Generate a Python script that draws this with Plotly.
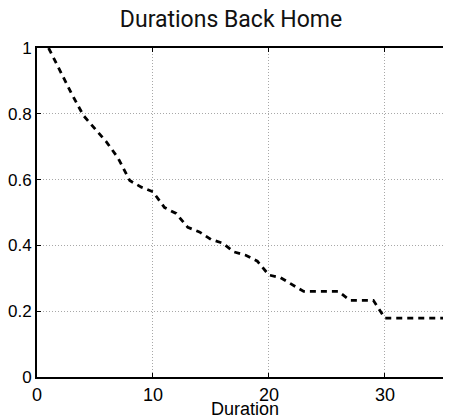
import plotly.graph_objects as go

duration = [1, 2, 3, 4, 5, 6, 7, 8, 9, 10, 11, 12, 13, 14, 15, 16, 17, 18, 19, 20,
            21, 22, 23, 24, 25, 26, 27, 28, 29, 30, 31, 32, 33, 34, 35, 36]
survival = [1.0, 0.93, 0.86, 0.795, 0.755, 0.714, 0.665, 0.597, 0.577, 0.563,
            0.515, 0.497, 0.455, 0.441, 0.418, 0.407, 0.38, 0.37, 0.352, 0.31,
            0.302, 0.28, 0.26, 0.26, 0.26, 0.26, 0.233, 0.233, 0.233, 0.179,
            0.179, 0.179, 0.179, 0.179, 0.179, 0.179]

x_ticks = [0, 10, 20, 30]
y_ticks = [0, 0.2, 0.4, 0.6, 0.8, 1]
y_tick_labels = ["0", "0.2", "0.4", "0.6", "0.8", "1"]

TICK_FONT = "Liberation Sans"
# page body has an 8px default margin; size the figure so it fills the window
OFF = 8
W, H = 451 - OFF, 416 - OFF
L, T, B = 37 - OFF, 48 - OFF, 39
PLOT_H = H - T - B

fig = go.Figure()
fig.add_trace(go.Scatter(
    x=duration, y=survival, mode="lines",
    line=dict(color="black", width=2.8, dash="6px,5px"),
    showlegend=False,
))

fig.update_layout(
    width=W, height=H,
    margin=dict(l=L, r=0, t=T, b=B, autoexpand=False),
    paper_bgcolor="white", plot_bgcolor="white",
    title=dict(text="Durations Back Home", x=(231 - OFF) / W, xanchor="center",
               y=1 - (18.5 - OFF) / H, yanchor="middle", yref="container",
               font=dict(family="Roboto", size=23, color="#111111")),
    font=dict(family=TICK_FONT, size=18, color="black"),
)

fig.add_annotation(text="Duration", x=(245 - 37) / (451 - 37), xref="paper",
                   y=-((409 - OFF) - (H - B)) / PLOT_H, yref="paper", yanchor="middle",
                   showarrow=False,
                   font=dict(family=TICK_FONT, size=18, color="black"))

fig.update_xaxes(
    range=[0, 35.7], tickvals=x_ticks, ticks="inside", ticklen=4, tickcolor="black",
    showline=True, linecolor="black", linewidth=2, mirror="ticks",
    showgrid=True, gridcolor="#a8a8a8", griddash="1px,2px", gridwidth=1,
    zeroline=False, tickfont=dict(family=TICK_FONT, size=18), automargin=False,
)
fig.update_yaxes(
    range=[0, 1], tickvals=y_ticks, ticktext=y_tick_labels, ticks="inside", ticklen=4,
    tickcolor="black", showline=True, linecolor="black", linewidth=2, mirror=False,
    showgrid=True, gridcolor="#a8a8a8", griddash="1px,2px", gridwidth=1,
    zeroline=False, tickfont=dict(family=TICK_FONT, size=17), automargin=False,
)

fig.write_html("out.html")
